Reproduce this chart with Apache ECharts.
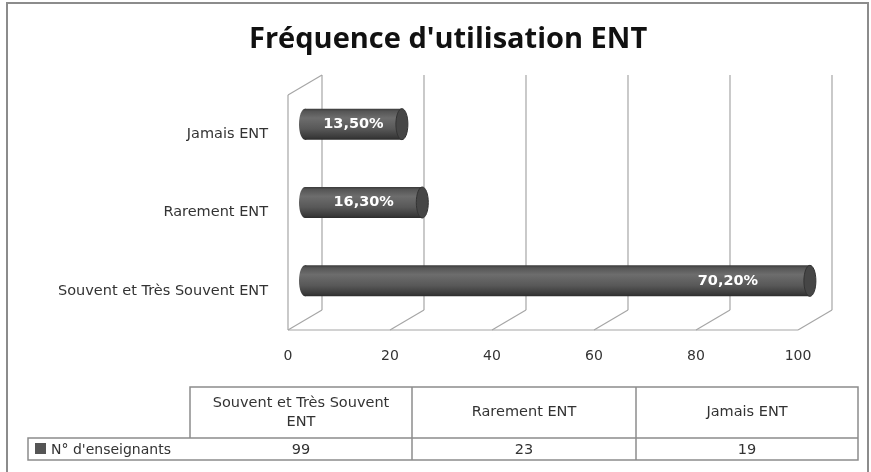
<!DOCTYPE html>
<html>
<head>
<meta charset="utf-8">
<script src="https://cdn.jsdelivr.net/npm/echarts@6/dist/echarts.min.js"></script>
<style>
  html, body { margin: 0; padding: 0; background: #fff; }
  #chart { width: 871px; height: 472px; }
</style>
</head>
<body>
<div id="chart"></div>
<script>
// categories, bottom to top as in the chart
var categories = ["Souvent et Très Souvent ENT", "Rarement ENT", "Jamais ENT"];
var enseignants = [99, 23, 19];
var pourcentages = ["70,20%", "16,30%", "13,50%"];
var xTicks = [0, 20, 40, 60, 80, 100];
// table columns (order of the data table)
var tableCols = ["Souvent et Très Souvent\nENT", "Rarement ENT", "Jamais ENT"];
var tableVals = [99, 23, 19];
var seriesName = "N° d'enseignants";

var DX = 34, DY = -20; // 3d depth offset
var FONT = "'Open Sans', sans-serif";
var WIDE = "'DejaVu Sans', sans-serif";
var lineCol = "#a6a6a6";

var myChart = echarts.init(document.getElementById("chart"));

function renderWalls(params, api) {
  var cs = params.coordSys;
  var x = api.coord([api.value(0), 0])[0];
  var bottom = cs.y + cs.height;
  var children = [
    { type: "line", shape: { x1: x + DX, y1: cs.y + DY, x2: x + DX, y2: bottom + DY }, style: { stroke: lineCol, lineWidth: 1.2 } },
    { type: "line", shape: { x1: x, y1: bottom, x2: x + DX, y2: bottom + DY }, style: { stroke: lineCol, lineWidth: 1.2 } }
  ];
  if (params.dataIndex === 0) {
    // left side wall + front floor edge
    children.push({ type: "line", shape: { x1: x, y1: cs.y, x2: x, y2: bottom }, style: { stroke: lineCol, lineWidth: 1.2 } });
    children.push({ type: "line", shape: { x1: x, y1: cs.y, x2: x + DX, y2: cs.y + DY }, style: { stroke: lineCol, lineWidth: 1.2 } });
    children.push({ type: "line", shape: { x1: cs.x, y1: bottom, x2: cs.x + cs.width, y2: bottom }, style: { stroke: lineCol, lineWidth: 1.2 } });
  }
  return { type: "group", children: children };
}

function renderCylinder(params, api) {
  var start = api.coord([0, api.value(1)]);
  var end = api.coord([api.value(0), api.value(1)]);
  var x0 = start[0] + DX / 2, x1 = end[0] + DX / 2;
  var cy = start[1] + DY / 2;
  var h = 31, rx = 6, ry = h / 2;
  var body = new echarts.graphic.LinearGradient(0, 0, 0, 1, [
    { offset: 0, color: "#3a3a3a" },
    { offset: 0.08, color: "#555555" },
    { offset: 0.3, color: "#6d6d6d" },
    { offset: 0.65, color: "#585858" },
    { offset: 0.92, color: "#3a3a3a" },
    { offset: 1, color: "#2b2b2b" }
  ]);
  var mid = (x0 + x1) / 2;
  var lx = Math.max(mid, x1 - 82);
  return {
    type: "group",
    children: [
      { type: "ellipse", shape: { cx: x0, cy: cy, rx: rx, ry: ry }, style: { fill: body } },
      { type: "rect", shape: { x: x0, y: cy - ry, width: x1 - x0, height: h }, style: { fill: body } },
      { type: "ellipse", shape: { cx: x1, cy: cy, rx: rx, ry: ry }, style: { fill: "#464646", stroke: "#333", lineWidth: 1 } },
      { type: "text", x: lx, y: cy, style: { text: pourcentages[params.dataIndex], fill: "#fff", font: "bold 14.5px " + WIDE, align: "center", verticalAlign: "middle" } }
    ]
  };
}

// data table drawn as graphic elements
function buildTable() {
  var colX = [190, 412, 636, 858];
  var top = 387, rowY = 438, bot = 460, legX = 28;
  var g = [];
  var st = { stroke: "#8c8c8c", lineWidth: 1.5 };
  g.push({ type: "polyline", shape: { points: [[colX[0], rowY], [colX[0], top], [colX[3], top], [colX[3], bot], [legX, bot], [legX, rowY], [colX[3], rowY]] }, style: Object.assign({ fill: null }, st) });
  for (var i = 1; i < 3; i++) {
    g.push({ type: "line", shape: { x1: colX[i], y1: top, x2: colX[i], y2: bot }, style: st });
  }
  for (var j = 0; j < tableCols.length; j++) {
    var cx = (colX[j] + colX[j + 1]) / 2;
    g.push({ type: "text", x: cx, y: (top + rowY) / 2, style: { text: tableCols[j], fill: "#333", font: "14.5px " + WIDE, align: "center", verticalAlign: "middle", lineHeight: 19 } });
    g.push({ type: "text", x: cx, y: (rowY + bot) / 2 + 1, style: { text: String(tableVals[j]), fill: "#333", font: "14.5px " + WIDE, align: "center", verticalAlign: "middle" } });
  }
  g.push({ type: "rect", shape: { x: 35, y: 443, width: 11, height: 11 }, style: { fill: "#555" } });
  g.push({ type: "text", x: 51, y: (rowY + bot) / 2 + 1, style: { text: seriesName, fill: "#333", font: "14px " + WIDE, align: "left", verticalAlign: "middle" } });
  // outer chart frame
  g.push({ type: "rect", shape: { x: 7, y: 3, width: 861, height: 480 }, style: { fill: null, stroke: "#8c8c8c", lineWidth: 2 } });
  return g;
}

var option = {
  animation: false,
  title: {
    text: "Fréquence d'utilisation ENT",
    left: 244,
    top: 20,
    textStyle: { fontFamily: FONT, fontSize: 29, fontWeight: "bold", color: "#111" }
  },
  grid: { left: 288, right: 73, top: 95, bottom: 142 },
  xAxis: {
    type: "value",
    min: 0,
    max: 100,
    interval: 20,
    axisLine: { show: false },
    axisTick: { show: false },
    splitLine: { show: false },
    axisLabel: { margin: 19, fontFamily: WIDE, fontSize: 14, color: "#333" }
  },
  yAxis: {
    type: "category",
    data: categories,
    axisLine: { show: false },
    axisTick: { show: false },
    axisLabel: { margin: 20, fontFamily: WIDE, fontSize: 14.5, color: "#333" }
  },
  graphic: buildTable(),
  series: [
    {
      type: "custom",
      renderItem: renderWalls,
      data: xTicks.map(function (t) { return [t, 0]; }),
      silent: true,
      z: 1
    },
    {
      type: "custom",
      name: seriesName,
      renderItem: renderCylinder,
      data: enseignants.map(function (v, i) { return [v, i]; }),
      z: 2
    }
  ]
};

myChart.setOption(option, true);
window.addEventListener("resize", function () {
  myChart.resize();
});
</script>
</body>
</html>
